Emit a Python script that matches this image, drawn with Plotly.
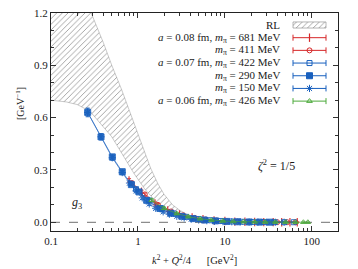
import plotly.graph_objects as go

# ---------------- data ----------------
rl_lower_x = [0.1, 0.15, 0.2, 0.25, 0.3, 0.4, 0.5, 0.7, 0.9, 1.2, 1.6, 2.0, 3.0, 4.0, 5.0, 6.0]
rl_lower_y = [0.70, 0.69, 0.675, 0.65, 0.62, 0.55, 0.49, 0.37, 0.28, 0.19, 0.12, 0.08, 0.035, 0.018, 0.01, 0.006]
rl_upper_x = [0.1, 0.2, 0.29, 0.4, 0.5, 0.65, 0.8, 1.0, 1.2, 1.4, 1.7, 2.0, 2.5, 3.0, 4.0, 5.0, 6.0]
rl_upper_y = [1.6, 1.4, 1.2, 1.03, 0.90, 0.76, 0.64, 0.51, 0.40, 0.31, 0.22, 0.16, 0.10, 0.07, 0.035, 0.02, 0.006]

s681_x = [0.79, 1.1, 1.57, 2.2, 3.0, 4.2, 5.6, 7.5, 10, 13, 17, 22, 28, 36, 45, 56, 68]
s681_y = [0.240, 0.175, 0.108, 0.068, 0.045, 0.028, 0.018, 0.011, 0.007, 0.004, 0.003, 0.002, 0.001, 0.001, 0.0005, 0.0003, 0.0002]
s681_e = [0.010, 0.009, 0.008, 0.006, 0.005, 0.004, 0.003, 0.003, 0.002, 0.002, 0.002, 0.002, 0.002, 0.002, 0.002, 0.002, 0.002]

s411_x = [0.85, 1.2, 1.7, 2.4, 3.3, 4.5, 6.0, 8.0, 10.5, 14, 18, 24, 31, 40, 52, 65]
s411_y = [0.225, 0.16, 0.10, 0.062, 0.040, 0.025, 0.016, 0.010, 0.006, 0.004, 0.0025, 0.0015, 0.001, 0.0006, 0.0004, 0.0002]
s411_e = [0.010, 0.008, 0.007, 0.005, 0.004, 0.003, 0.003, 0.002, 0.002, 0.002, 0.002, 0.002, 0.002, 0.002, 0.002, 0.002]

s422_x = [0.95, 1.35, 1.9, 2.6, 3.6, 5.0, 6.8, 9.0, 12, 16, 21, 28, 37, 48, 62]
s422_y = [0.19, 0.125, 0.078, 0.050, 0.031, 0.019, 0.012, 0.0075, 0.0045, 0.003, 0.002, 0.0012, 0.0008, 0.0005, 0.0003]
s422_e = [0.010, 0.008, 0.006, 0.005, 0.004, 0.003, 0.003, 0.002, 0.002, 0.002, 0.002, 0.002, 0.002, 0.002, 0.002]

s290_x = [0.264, 0.376, 0.507, 0.66, 0.84, 1.03, 1.26, 1.79, 2.4, 3.2, 4.3, 5.8, 7.8, 10.5, 14, 19, 25, 33]
s290_y = [0.63, 0.49, 0.375, 0.29, 0.216, 0.174, 0.126, 0.079, 0.052, 0.034, 0.021, 0.013, 0.008, 0.005, 0.003, 0.0018, 0.0011, 0.0007]
s290_e = [0.020, 0.014, 0.012, 0.010, 0.009, 0.008, 0.007, 0.006, 0.005, 0.004, 0.003, 0.003, 0.002, 0.002, 0.002, 0.002, 0.002, 0.002]

s150_x = [0.264, 0.376, 0.507, 0.66, 0.80, 0.95, 1.12, 1.35, 1.6, 1.95, 2.3, 2.8, 3.4, 4.1, 5.0, 6.2, 7.6, 9.5, 12, 15, 19, 24, 30, 38, 48]
s150_y = [0.63, 0.49, 0.37, 0.285, 0.225, 0.18, 0.14, 0.105, 0.08, 0.06, 0.046, 0.034, 0.025, 0.018, 0.013, 0.009, 0.006, 0.004, 0.003, 0.002, 0.0013, 0.0008, 0.0005, 0.0003, 0.0002]
s150_e = [0.025, 0.018, 0.015, 0.013, 0.012, 0.011, 0.010, 0.009, 0.008, 0.007, 0.006, 0.005, 0.005, 0.004, 0.004, 0.003, 0.003, 0.003, 0.003, 0.003, 0.003, 0.003, 0.003, 0.003, 0.003]

s426_x = [1.44, 2.0, 2.8, 3.8, 5.2, 7.0, 9.5, 12.5, 16.5, 22, 29, 38, 50, 65, 80, 90]
s426_y = [0.126, 0.080, 0.050, 0.032, 0.020, 0.012, 0.0075, 0.0045, 0.003, 0.002, 0.0012, 0.0008, 0.0005, 0.0003, 0.0002, 0.0001]
s426_e = [0.008, 0.006, 0.005, 0.004, 0.003, 0.003, 0.002, 0.002, 0.002, 0.002, 0.002, 0.002, 0.002, 0.002, 0.002, 0.002]

legend_labels = [
    "RL",
    "<i>a</i> = 0.08 fm, <i>m</i><sub>π</sub> = 681 MeV",
    "<i>m</i><sub>π</sub> = 411 MeV",
    "<i>a</i> = 0.07 fm, <i>m</i><sub>π</sub> = 422 MeV",
    "<i>m</i><sub>π</sub> = 290 MeV",
    "<i>m</i><sub>π</sub> = 150 MeV",
    "<i>a</i> = 0.06 fm, <i>m</i><sub>π</sub> = 426 MeV",
]

x_tickvals = [0.1, 1, 10, 100]
x_ticktext = ["0.1", "1", "10", "100"]
y_tickvals = [0.0, 0.3, 0.6, 0.9, 1.2]

# ---------------- styles ----------------
RED = "rgb(214,39,40)"
BLUE = "rgb(24,96,190)"
GREEN = "rgb(77,170,60)"
FONT = "Liberation Serif"
TXT = "#1a1a1a"

series = [
    (s681_x, s681_y, s681_e, RED, "line-ns-open", 6, 1.2),
    (s411_x, s411_y, s411_e, RED, "circle-open", 5, 1.0),
    (s422_x, s422_y, s422_e, BLUE, "square-open", 5, 1.0),
    (s290_x, s290_y, s290_e, BLUE, "square", 6, 1.0),
    (s150_x, s150_y, s150_e, BLUE, "asterisk-open", 6, 1.0),
    (s426_x, s426_y, s426_e, GREEN, "triangle-up-open", 5, 1.0),
]

fig = go.Figure()

# RL band (hatched)
band_x = rl_lower_x + rl_upper_x[::-1]
band_y = rl_lower_y + rl_upper_y[::-1]
fig.add_trace(go.Scatter(
    x=band_x, y=band_y, mode="lines", fill="toself",
    line=dict(color="rgba(130,130,130,0.7)", width=0.6),
    fillcolor="rgba(255,255,255,0)",
    fillpattern=dict(shape="/", fgcolor="rgba(110,110,110,0.85)", bgcolor="rgba(255,255,255,0)", size=4, solidity=0.18),
    showlegend=False, hoverinfo="skip"))

# zero dashed line
fig.add_hline(y=0, line=dict(color="rgb(140,140,140)", width=1.2, dash="dash"), layer="below")

for xs, ys, es, col, sym, size, lw in series:
    fig.add_trace(go.Scatter(
        x=xs, y=ys, mode="lines+markers",
        line=dict(color=col, width=0.7),
        marker=dict(symbol=sym, size=size, color=col, line=dict(color=col, width=lw)),
        error_y=dict(type="data", array=es, visible=True, color=col, thickness=1, width=2),
        showlegend=False, opacity=0.9))

# ---------------- manual legend (overlay axes in [0,1]) ----------------
key_cx = 0.9007
key_half = 0.0575
row_top = 0.945
row_step = 0.0582
text_x = 0.805

# RL key: hatched box
bx0, bx1 = key_cx - key_half, key_cx + key_half
by0, by1 = row_top - 0.014, row_top + 0.014
fig.add_trace(go.Scatter(
    x=[bx0, bx1, bx1, bx0, bx0], y=[by0, by0, by1, by1, by0],
    xaxis="x2", yaxis="y2", mode="lines", fill="toself",
    line=dict(color="rgba(120,120,120,0.9)", width=0.6),
    fillcolor="rgba(255,255,255,0)",
    fillpattern=dict(shape="/", fgcolor="rgba(110,110,110,0.85)", size=4, solidity=0.18),
    showlegend=False, hoverinfo="skip"))

for i, (xs, ys, es, col, sym, size, lw) in enumerate(series):
    yy = row_top - (i + 1) * row_step
    fig.add_trace(go.Scatter(
        x=[key_cx], y=[yy], xaxis="x2", yaxis="y2", mode="markers",
        marker=dict(symbol=sym, size=size, color=col, line=dict(color=col, width=lw)),
        error_x=dict(type="constant", value=key_half, visible=True, color=col, thickness=1, width=3),
        showlegend=False, hoverinfo="skip"))

for i, lab in enumerate(legend_labels):
    fig.add_annotation(x=text_x, y=row_top - i * row_step, xref="x2", yref="y2",
                       text=lab, showarrow=False, xanchor="right", yanchor="middle",
                       font=dict(family=FONT, size=11, color=TXT))

# other labels
fig.add_annotation(x=-0.70, y=0.11, xref="x", yref="y", text="<i>g</i><sub>3</sub>",
                   showarrow=False, font=dict(family=FONT, size=12, color=TXT))
fig.add_annotation(x=1.594, y=0.327, xref="x", yref="y", text="<i>ζ</i><sup>2</sup> = 1/5",
                   showarrow=False, font=dict(family=FONT, size=12, color=TXT))
fig.add_annotation(x=-0.136, y=0.587, xref="paper", yref="paper", text="[GeV<sup>−1</sup>]",
                   textangle=-90, showarrow=False, font=dict(family=FONT, size=10, color=TXT))
fig.add_annotation(x=0.5, y=-0.133, xref="paper", yref="paper",
                   text="<i>k</i><sup>2</sup> + <i>Q</i><sup>2</sup>/4\u2003\u2002[GeV<sup>2</sup>]",
                   showarrow=False, yanchor="middle", font=dict(family=FONT, size=10.5, color=TXT))

x_minor = [v * m for v in [0.1, 1, 10, 100] for m in range(2, 10) if v * m <= 200]

fig.update_layout(
    template="none",
    width=358, height=269,
    margin=dict(l=51, r=20, t=13, b=38, pad=0),
    paper_bgcolor="white", plot_bgcolor="white",
    font=dict(family=FONT, size=11, color=TXT),
    showlegend=False,
    xaxis=dict(type="log", range=[-1, 2.301], tickmode="array", tickvals=x_tickvals, ticktext=x_ticktext,
               ticks="inside", ticklen=5, tickcolor="#333", showline=True, linecolor="#222", linewidth=1,
               mirror="ticks", showgrid=False, zeroline=False, automargin=False,
               minor=dict(ticks="inside", ticklen=3, tickcolor="#333", tickmode="array", tickvals=x_minor, showgrid=False)),
    yaxis=dict(range=[-0.05, 1.2], tickmode="array", tickvals=y_tickvals, tickformat=".1f",
               ticks="inside", ticklen=5, tickcolor="#333", showline=True, linecolor="#222", linewidth=1,
               mirror="ticks", showgrid=False, zeroline=False, automargin=False,
               minor=dict(ticks="inside", ticklen=3, tickcolor="#333", dtick=0.1, showgrid=False)),
    xaxis2=dict(overlaying="x", range=[0, 1], visible=False, anchor="y2"),
    yaxis2=dict(overlaying="y", range=[0, 1], visible=False, anchor="x2"),
)

fig.write_html("out.html", config={"displayModeBar": False},
               post_script="document.body.style.margin='0';document.body.style.overflow='hidden';")
